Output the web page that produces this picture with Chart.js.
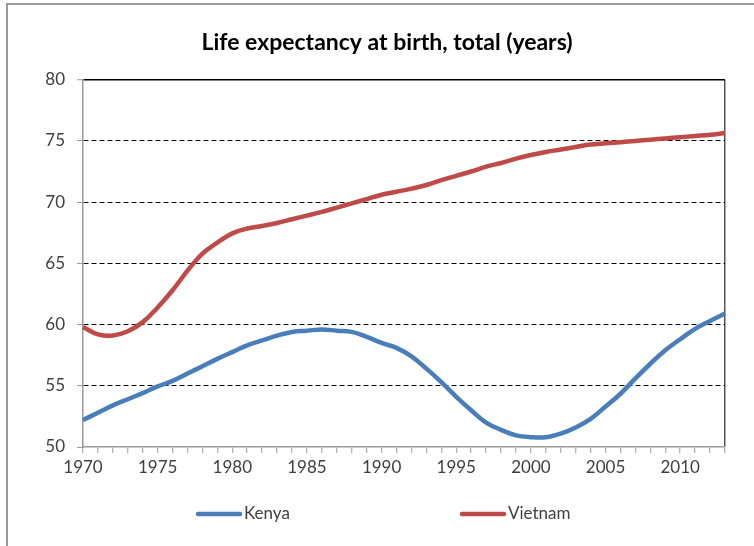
<!DOCTYPE html>
<html>
<head>
<meta charset="utf-8">
<title>Life expectancy at birth</title>
<script src="https://cdn.jsdelivr.net/npm/chart.js@4"></script>
<style>
  html, body { margin: 0; padding: 0; background: #fff; overflow: hidden; }
  #wrap { position: relative; width: 754px; height: 546px; }
  #frame {
    position: absolute; left: 6px; top: 3px; width: 760px; height: 560px;
    border-top: 2px solid #9a9a9a; border-left: 2px solid #9a9a9a;
    pointer-events: none;
  }
  canvas { position: absolute; left: 0; top: 0; }
</style>
</head>
<body>
<div id="wrap">
  <canvas id="lifeChart" width="754" height="546"></canvas>
  <div id="frame"></div>
</div>
<script>
// data
const years = [];
for (let y = 1970; y <= 2013; y++) years.push(String(y));

const kenya = [
  52.2, 52.8, 53.4, 53.9, 54.4, 54.95, 55.4, 56.0, 56.6, 57.2,
  57.75, 58.3, 58.7, 59.1, 59.4, 59.5, 59.6, 59.5, 59.4, 59.0,
  58.5, 58.1, 57.4, 56.4, 55.3, 54.1, 53.0, 52.0, 51.4, 50.95,
  50.8, 50.8, 51.1, 51.6, 52.3, 53.3, 54.35, 55.6, 56.8, 57.9,
  58.8, 59.65, 60.3, 60.9
];

const vietnam = [
  59.8, 59.2, 59.1, 59.45, 60.2, 61.4, 62.8, 64.4, 65.8, 66.7,
  67.45, 67.85, 68.05, 68.3, 68.6, 68.9, 69.2, 69.55, 69.9, 70.25,
  70.6, 70.85, 71.1, 71.4, 71.8, 72.15, 72.5, 72.9, 73.2, 73.55,
  73.85, 74.1, 74.3, 74.5, 74.7, 74.8, 74.9, 75.0, 75.1, 75.2,
  75.3, 75.4, 75.5, 75.65
];

const seriesNames = ['Kenya', 'Vietnam'];
const seriesColors = ['#4A7EBB', '#BE4B48'];
const titleText = 'Life expectancy at birth, total (years)';

const FONT = 'Lato, "Liberation Sans", sans-serif';
const TEXT_COLOR = '#404040';

// bottom legend drawn by hand, excel spreads the two items far apart
const wideLegend = {
  id: 'wideLegend',
  afterDraw(chart, args, opts) {
    const ctx = chart.ctx;
    ctx.save();
    ctx.font = '17px ' + FONT;
    ctx.textBaseline = 'middle';
    ctx.textAlign = 'left';
    chart.data.datasets.forEach((ds, i) => {
      const x = opts.starts[i];
      ctx.strokeStyle = ds.borderColor;
      ctx.lineWidth = 4.5;
      ctx.lineCap = 'round';
      ctx.beginPath();
      ctx.moveTo(x, opts.y);
      ctx.lineTo(x + opts.lineLen, opts.y);
      ctx.stroke();
      ctx.fillStyle = TEXT_COLOR;
      ctx.fillText(ds.label, x + opts.lineLen + 4, opts.y);
    });
    ctx.restore();
  }
};

const ctx = document.getElementById('lifeChart');
const chart = new Chart(ctx, {
  type: 'line',
  data: {
    labels: years,
    datasets: [
      {
        label: seriesNames[0],
        data: kenya,
        borderColor: seriesColors[0],
        backgroundColor: seriesColors[0],
        borderWidth: 4.5,
        pointRadius: 0,
        tension: 0.4,
        fill: false
      },
      {
        label: seriesNames[1],
        data: vietnam,
        borderColor: seriesColors[1],
        backgroundColor: seriesColors[1],
        borderWidth: 4.5,
        pointRadius: 0,
        tension: 0.4,
        fill: false
      }
    ]
  },
  options: {
    responsive: false,
    animation: false,
    layout: {
      padding: { left: 20, right: 0, top: 0, bottom: 64.6 }
    },
    plugins: {
      legend: { display: false },
      tooltip: { enabled: false },
      title: {
        display: true,
        text: titleText,
        color: '#000',
        font: { family: FONT, size: 23, weight: 'bold' },
        padding: { top: 29.2, bottom: 22.9 }
      },
      wideLegend: { starts: [198, 462], lineLen: 42, y: 514 }
    },
    scales: {
      x: {
        type: 'category',
        offset: false,
        grid: {
          display: true,
          drawOnChartArea: true,
          color: c => (c.index === years.length - 1 ? '#555' : 'rgba(0,0,0,0)'),
          lineWidth: 1.5,
          tickColor: '#9a9a9a',
          tickLength: 6,
          tickWidth: 1
        },
        border: { display: true, color: '#9a9a9a', width: 1.5 },
        ticks: {
          autoSkip: false,
          maxRotation: 0,
          minRotation: 0,
          padding: 4,
          color: TEXT_COLOR,
          font: { family: FONT, size: 17 },
          callback: (v, i) => (Number(years[i]) % 5 === 0 ? years[i] : '')
        }
      },
      y: {
        min: 50,
        max: 80,
        afterFit: s => { s.width = 63; },
        grid: {
          color: c => (c.tick && c.tick.value === 50 ? 'rgba(0,0,0,0)' : '#000'),
          lineWidth: c => (c.tick && c.tick.value === 80 ? 1.5 : 1),
          tickColor: '#9a9a9a',
          tickLength: 6,
          tickWidth: 1
        },
        border: {
          display: true,
          color: '#9a9a9a',
          width: 1.5,
          dash: c => (c.tick && c.tick.value === 80 ? [] : [5, 3])
        },
        ticks: {
          stepSize: 5,
          padding: 12,
          color: TEXT_COLOR,
          font: { family: FONT, size: 17 }
        }
      },
      // empty right-hand strip so the plot ends where the reference's does
      spacer: {
        type: 'linear',
        position: 'right',
        display: true,
        afterFit: s => { s.width = 29; },
        grid: { display: false },
        border: { display: false },
        ticks: { display: false }
      }
    }
  },
  plugins: [wideLegend]
});
</script>
</body>
</html>
